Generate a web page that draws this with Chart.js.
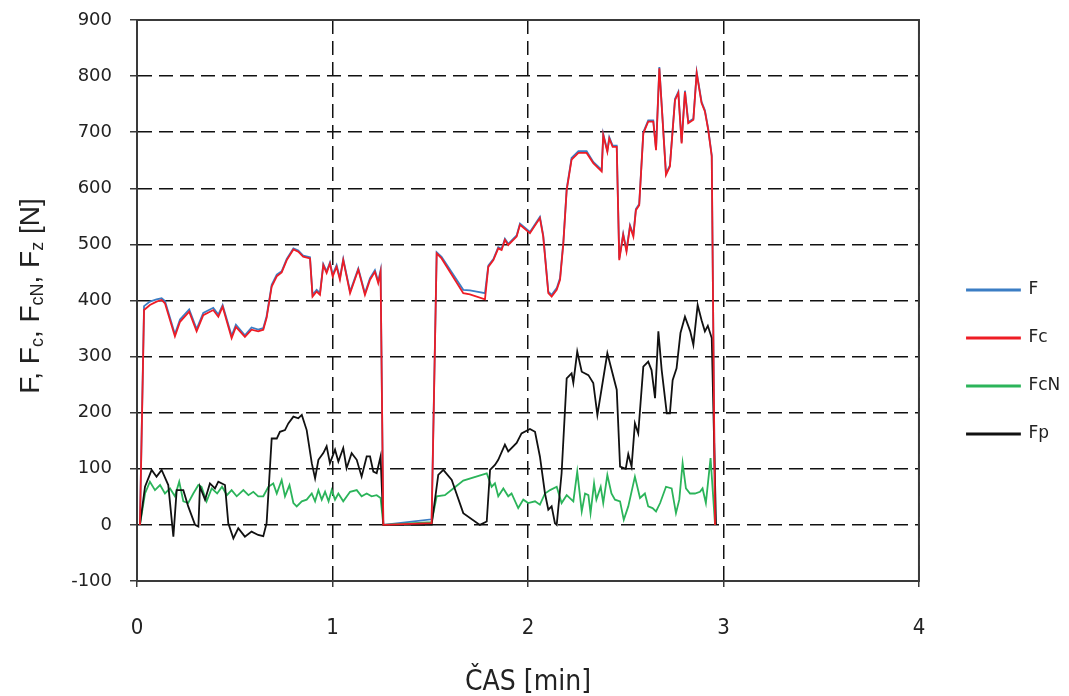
<!DOCTYPE html>
<html lang="cs">
<head>
<meta charset="UTF-8">
<title>Síly v čase</title>
<script src="https://cdn.jsdelivr.net/npm/chart.js@4.4.0/dist/chart.umd.min.js"></script>
<style>
  html, body { margin: 0; padding: 0; background: #fff; }
  #wrap { position: relative; width: 1069px; height: 696px; }
</style>
</head>
<body>
<div id="wrap"><canvas id="forceChart"></canvas></div>
<script>
  // time [min] and force [N]
  const timeFc = [0.015, 0.036, 0.066, 0.1, 0.126, 0.143, 0.194, 0.22, 0.267, 0.305, 0.339, 0.39, 0.416, 0.438,
    0.484, 0.506, 0.552, 0.586, 0.62, 0.646, 0.663, 0.689, 0.715, 0.74, 0.766, 0.8, 0.825, 0.85, 0.885, 0.898,
    0.919, 0.936, 0.953, 0.97, 0.987, 1.001, 1.021, 1.038, 1.055, 1.09, 1.132, 1.166, 1.192, 1.217, 1.234, 1.246,
    1.26, 1.507, 1.533, 1.558, 1.669, 1.703, 1.78, 1.797, 1.823, 1.848, 1.865, 1.882, 1.899, 1.942, 1.959, 2.01,
    2.061, 2.078, 2.104, 2.121, 2.147, 2.164, 2.181, 2.198, 2.223, 2.258, 2.3, 2.334, 2.377, 2.385, 2.406, 2.416,
    2.433, 2.454, 2.467, 2.487, 2.504, 2.522, 2.539, 2.552, 2.569, 2.59, 2.615, 2.641, 2.655, 2.672, 2.706, 2.726,
    2.752, 2.769, 2.786, 2.803, 2.82, 2.846, 2.863, 2.888, 2.905, 2.922, 2.94, 2.957];
  const Fc = [0, 383, 392, 398, 401, 395, 336, 362, 380, 345, 374, 383, 371, 389,
    333, 353, 335, 348, 345, 348, 369, 425, 443, 450, 472, 491, 487, 478, 475, 407,
    416, 410, 463, 449, 466, 443, 460, 437, 472, 413, 455, 410, 437, 451, 431, 451,
    0, 3, 484, 475, 413, 411, 402, 460, 472, 493, 490, 508, 499, 514, 535, 520,
    547, 514, 413, 407, 419, 437, 502, 597, 651, 663, 663, 645, 630, 695, 665, 689,
    674, 674, 472, 517, 487, 532, 514, 561, 570, 698, 719, 719, 668, 814, 624, 639,
    757, 770, 680, 772, 716, 722, 805, 752, 737, 704, 657, 0];
  const F = [0, 390, 398, 402, 404, 399, 340, 366, 384, 349, 378, 387, 375, 392,
    337, 357, 338, 352, 348, 351, 372, 428, 446, 452, 474, 493, 489, 480, 477, 410,
    419, 413, 465, 452, 468, 446, 463, 440, 474, 416, 457, 413, 440, 454, 434, 454,
    0, 10, 486, 478, 419, 418, 413, 462, 474, 495, 492, 510, 501, 516, 537, 522,
    549, 516, 416, 410, 422, 440, 505, 599, 654, 666, 666, 647, 633, 697, 667, 691,
    676, 676, 475, 519, 490, 534, 517, 563, 572, 700, 721, 721, 670, 816, 626, 641,
    759, 772, 682, 774, 718, 724, 807, 754, 739, 706, 659, 0];

  const timeFcN = [0.015, 0.041, 0.066, 0.092, 0.118, 0.143, 0.169, 0.194, 0.216, 0.237, 0.262, 0.288, 0.314, 0.33,
    0.356, 0.382, 0.41, 0.435, 0.46, 0.484, 0.51, 0.544, 0.57, 0.595, 0.62, 0.646, 0.672, 0.697, 0.715, 0.74,
    0.757, 0.78, 0.8, 0.817, 0.843, 0.868, 0.894, 0.911, 0.928, 0.945, 0.962, 0.98, 0.996, 1.013, 1.03, 1.055,
    1.09, 1.124, 1.149, 1.175, 1.2, 1.226, 1.246, 1.26, 1.507, 1.533, 1.575, 1.618, 1.669, 1.789, 1.814, 1.831,
    1.848, 1.874, 1.899, 1.916, 1.95, 1.976, 2.001, 2.036, 2.061, 2.087, 2.113, 2.147, 2.172, 2.198, 2.232, 2.252,
    2.275, 2.292, 2.309, 2.32, 2.338, 2.35, 2.372, 2.385, 2.406, 2.427, 2.445, 2.471, 2.49, 2.513, 2.547, 2.573,
    2.598, 2.615, 2.637, 2.655, 2.676, 2.706, 2.735, 2.757, 2.774, 2.791, 2.808, 2.829, 2.854, 2.88, 2.893, 2.91,
    2.934, 2.957];
  const FcN = [0, 56, 77, 62, 71, 56, 65, 51, 77, 42, 39, 56, 71, 68,
    42, 65, 56, 68, 53, 62, 51, 62, 53, 59, 51, 51, 68, 74, 56, 80,
    51, 71, 39, 33, 42, 45, 56, 42, 62, 45, 59, 42, 62, 45, 56, 42,
    59, 62, 51, 56, 51, 53, 48, 0, 5, 51, 53, 65, 79, 92, 68, 74,
    51, 65, 51, 56, 30, 45, 39, 42, 36, 56, 62, 68, 39, 53, 42, 95,
    24, 56, 53, 21, 74, 45, 68, 39, 89, 56, 45, 42, 9, 33, 86, 48,
    56, 33, 30, 24, 39, 68, 65, 21, 45, 110, 65, 56, 56, 59, 65, 39,
    119, 0];

  const timeFp = [0.015, 0.041, 0.075, 0.1, 0.126, 0.16, 0.186, 0.203, 0.237, 0.262, 0.297, 0.314, 0.322, 0.348,
    0.373, 0.399, 0.416, 0.45, 0.467, 0.493, 0.518, 0.552, 0.586, 0.62, 0.646, 0.663, 0.689, 0.715, 0.731, 0.757,
    0.774, 0.8, 0.825, 0.843, 0.868, 0.894, 0.911, 0.928, 0.953, 0.97, 0.987, 1.013, 1.03, 1.055, 1.072, 1.098,
    1.124, 1.149, 1.175, 1.192, 1.209, 1.226, 1.246, 1.26, 1.507, 1.541, 1.567, 1.61, 1.669, 1.754, 1.789, 1.806,
    1.831, 1.848, 1.882, 1.899, 1.942, 1.967, 2.01, 2.036, 2.061, 2.087, 2.104, 2.121, 2.138, 2.147, 2.172, 2.198,
    2.223, 2.232, 2.252, 2.275, 2.309, 2.334, 2.355, 2.406, 2.454, 2.471, 2.5, 2.513, 2.53, 2.547, 2.564, 2.59,
    2.615, 2.632, 2.65, 2.667, 2.684, 2.71, 2.726, 2.74, 2.76, 2.78, 2.803, 2.83, 2.846, 2.868, 2.888, 2.905,
    2.92, 2.94, 2.962];
  const Fp = [0, 68, 98, 86, 98, 71, -21, 62, 62, 33, 0, -3, 68, 45,
    74, 65, 77, 71, 3, -24, -6, -21, -12, -18, -20, 3, 154, 154, 166, 169,
    181, 193, 190, 196, 169, 110, 83, 116, 128, 140, 110, 134, 113, 137, 101, 128,
    116, 86, 122, 122, 95, 92, 122, 0, 0, 89, 98, 80, 21, 0, 6, 98,
    107, 116, 143, 131, 146, 163, 171, 166, 122, 56, 27, 33, 3, 0, 92, 261,
    270, 253, 309, 273, 267, 253, 196, 306, 241, 104, 100, 126, 104, 181, 163, 282,
    291, 276, 226, 345, 276, 199, 199, 258, 279, 342, 371, 345, 321, 392, 365, 345,
    355, 333, 0];

  const xTicks = [0, 1, 2, 3, 4];
  const yMin = -100, yMax = 900, yStep = 100;

  const pts = (ts, vs) => ts.map((t, i) => ({ x: t, y: vs[i] }));

  // solid frame round the plot area
  const plotFrame = {
    id: 'plotFrame',
    afterDatasetsDraw(chart) {
      const { ctx, chartArea: a } = chart;
      ctx.save();
      ctx.strokeStyle = '#3a3a3a';
      ctx.lineWidth = 2;
      ctx.strokeRect(a.left, a.top, a.right - a.left, a.bottom - a.top);
      ctx.restore();
    }
  };

  // push the legend a little right and down, as in the original
  const legendShift = {
    id: 'legendShift',
    afterLayout(chart) {
      const l = chart.legend;
      l.left += 17; l.right += 17;
      l.top += 4; l.bottom += 4;
    }
  };

  // y title with subscripts: F, Fc, FcN, Fz [N]
  const yTitle = {
    id: 'yTitle',
    afterDraw(chart) {
      const ctx = chart.ctx;
      const parts = [['F, F', 0], ['c', 1], [', F', 0], ['cN', 1], [', F', 0], ['z', 1], [' [N]', 0]];
      const big = '28px "Liberation Sans", Arial, sans-serif';
      const small = '18px "Liberation Sans", Arial, sans-serif';
      let total = 0;
      parts.forEach(([t, s]) => { ctx.font = s ? small : big; total += ctx.measureText(t).width; });
      ctx.save();
      ctx.translate(31, 296);
      ctx.rotate(-Math.PI / 2);
      ctx.fillStyle = '#222';
      ctx.textBaseline = 'middle';
      let x = -total / 2;
      parts.forEach(([t, s]) => {
        ctx.font = s ? small : big;
        ctx.fillText(t, x, s ? 7 : 0);
        x += ctx.measureText(t).width;
      });
      ctx.restore();
    }
  };

  const tickFont = { family: '"DejaVu Sans", Verdana, sans-serif', size: 18 };

  new Chart(document.getElementById('forceChart'), {
    type: 'line',
    data: {
      datasets: [
        { label: 'F', data: pts(timeFc, F), borderColor: '#3b7dc4', backgroundColor: '#3b7dc4', order: 4 },
        { label: 'Fc', data: pts(timeFc, Fc), borderColor: '#ee1c25', backgroundColor: '#ee1c25', order: 1 },
        { label: 'FcN', data: pts(timeFcN, FcN), borderColor: '#2bb45a', backgroundColor: '#2bb45a', order: 3 },
        { label: 'Fp', data: pts(timeFp, Fp), borderColor: '#111111', backgroundColor: '#111111', order: 2 }
      ]
    },
    options: {
      responsive: true,
      maintainAspectRatio: false,
      animation: false,
      parsing: false,
      elements: {
        line: { borderWidth: 1.8, tension: 0 },
        point: { radius: 0 }
      },
      layout: { padding: { top: 20, right: 15.7, bottom: 0, left: 0 } },
      plugins: {
        tooltip: { enabled: false },
        legend: {
          position: 'right',
          labels: {
            sort: (a, b) => a.datasetIndex - b.datasetIndex,
            boxWidth: 53,
            boxHeight: 1,
            padding: 31,
            color: '#222',
            font: { family: '"DejaVu Sans", Verdana, sans-serif', size: 17 }
          }
        }
      },
      scales: {
        x: {
          type: 'linear',
          min: 0,
          max: 4,
          afterBuildTicks: s => { s.ticks = xTicks.map(v => ({ value: v })); },
          afterFit: s => { s.height = 115; },
          ticks: {
            padding: 28,
            color: '#222',
            font: { family: '"Liberation Sans Narrow", "DejaVu Sans Condensed", sans-serif', size: 22 }
          },
          grid: { color: '#111', lineWidth: 1.5, tickLength: 6, tickColor: '#3a3a3a', tickBorderDash: [] },
          border: { display: true, color: '#3a3a3a', width: 2, dash: [14, 7] },
          title: {
            display: true,
            text: 'ČAS [min]',
            color: '#222',
            padding: { top: 0, bottom: -4 },
            font: { family: '"Liberation Sans Narrow", "DejaVu Sans Condensed", sans-serif', size: 28 }
          }
        },
        y: {
          min: yMin,
          max: yMax,
          afterFit: s => { s.width = 137; s.paddingTop = 0; s.paddingBottom = 0; },
          ticks: { stepSize: yStep, padding: 18, color: '#222', font: tickFont },
          grid: { color: '#111', lineWidth: 1.5, tickLength: 7, tickColor: '#3a3a3a', tickBorderDash: [] },
          border: { display: true, color: '#3a3a3a', width: 2, dash: [14, 7] }
        }
      }
    },
    plugins: [plotFrame, legendShift, yTitle]
  });
</script>
</body>
</html>
